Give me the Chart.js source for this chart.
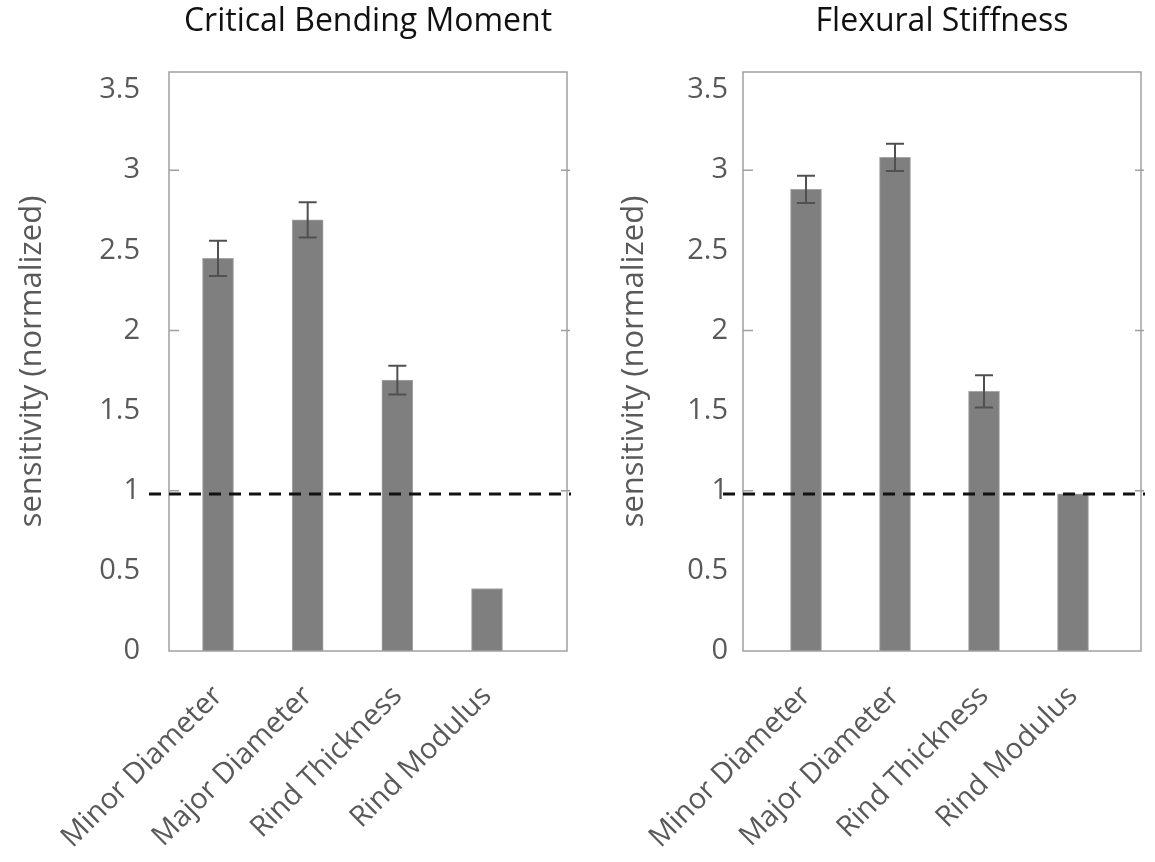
<!DOCTYPE html>
<html>
<head>
<meta charset="utf-8">
<script src="https://cdn.jsdelivr.net/npm/chart.js@4"></script>
<style>
  html, body { margin: 0; padding: 0; background: #fff; }
  .wrap { position: absolute; top: 0; width: 577px; height: 862px; }
  #left { left: 0; }
  #right { left: 577px; width: 578px; }
</style>
</head>
<body>
<div class="wrap" id="left"><canvas id="bendChart"></canvas></div>
<div class="wrap" id="right"><canvas id="stiffChart"></canvas></div>
<script>
// Data
const categories = ['Minor Diameter', 'Major Diameter', 'Rind Thickness', 'Rind Modulus'];
const bendValues = [2.45, 2.69, 1.69, 0.39];
const bendErrors = [0.11, 0.11, 0.09, 0];
const stiffValues = [2.88, 3.08, 1.62, 0.98];
const stiffErrors = [0.085, 0.085, 0.10, 0];
const referenceLine = 0.98;
const yTicks = [0, 0.5, 1, 1.5, 2, 2.5, 3, 3.5];
const frameTicks = [1, 2, 3];

const labelFont = "'Open Sans', sans-serif";

// Frame, border ticks, dashed reference line, error bars
const decorPlugin = {
    id: 'decor',
    afterDatasetsDraw(chart, args, opts) {
        const ctx = chart.ctx;
        const area = chart.chartArea;
        const x = chart.scales.x;
        const y = chart.scales.y;
        ctx.save();

        // Error bars
        ctx.strokeStyle = '#505050';
        ctx.lineWidth = 2;
        opts.values.forEach((v, i) => {
            const err = opts.errors[i];
            if (!err) return;
            const px = x.getPixelForValue(i + 1);
            const top = y.getPixelForValue(v + err);
            const bot = y.getPixelForValue(v - err);
            ctx.beginPath();
            ctx.moveTo(px, top); ctx.lineTo(px, bot);
            ctx.moveTo(px - 9, top); ctx.lineTo(px + 9, top);
            ctx.moveTo(px - 9, bot); ctx.lineTo(px + 9, bot);
            ctx.stroke();
        });

        // Frame
        ctx.strokeStyle = '#a0a0a0';
        ctx.lineWidth = 1.5;
        ctx.strokeRect(area.left, area.top, area.right - area.left, area.bottom - area.top);

        // Small tick marks on frame
        frameTicks.forEach(t => {
            const py = y.getPixelForValue(t);
            ctx.beginPath();
            ctx.moveTo(area.left, py); ctx.lineTo(area.left + 10, py);
            ctx.moveTo(area.right - 6, py); ctx.lineTo(area.right + 3, py);
            ctx.stroke();
        });

        // Dashed reference line
        const ry = y.getPixelForValue(opts.ref);
        ctx.strokeStyle = '#111';
        ctx.lineWidth = 3;
        ctx.setLineDash([12, 8]);
        ctx.beginPath();
        ctx.moveTo(area.left - 20, ry);
        ctx.lineTo(area.right + 4, ry);
        ctx.stroke();
        ctx.restore();
    }
};

function makeChart(canvasId, title, values, errors, xMin, xMax, yAxisWidth, tickPad, titlePad, rightPad) {
    const ctx = document.getElementById(canvasId);
    return new Chart(ctx, {
        type: 'bar',
        data: {
            datasets: [{
                data: values.map((v, i) => ({ x: i + 1, y: v })),
                backgroundColor: '#7f7f7f',
                borderColor: '#a6a6a6',
                borderWidth: 1,
                barThickness: 31
            }]
        },
        options: {
            responsive: true,
            maintainAspectRatio: false,
            animation: false,
            layout: { padding: { left: 0, right: rightPad, top: 0, bottom: 0 } },
            plugins: {
                legend: { display: false },
                tooltip: { enabled: false },
                title: {
                    display: true,
                    fullSize: false,
                    text: title,
                    color: '#111',
                    font: { family: labelFont, size: 32, weight: 'normal' },
                    padding: { top: 3, bottom: 30.6 }
                },
                decor: { values: values, errors: errors, ref: referenceLine }
            },
            scales: {
                x: {
                    type: 'linear',
                    offset: false,
                    min: xMin,
                    max: xMax,
                    grid: { display: false, offset: false },
                    border: { display: false },
                    afterBuildTicks: axis => {
                        axis.ticks = categories.map((c, i) => ({ value: i + 1 }));
                    },
                    afterFit: axis => { axis.height = 211; },
                    ticks: {
                        autoSkip: false,
                        minRotation: 45,
                        maxRotation: 45,
                        padding: 20,
                        color: '#595959',
                        font: { family: labelFont, size: 29 },
                        callback: v => categories[Math.round(v) - 1]
                    }
                },
                y: {
                    min: 0,
                    max: 3.6125,
                    grid: { display: false, drawTicks: false },
                    border: { display: false },
                    afterBuildTicks: axis => {
                        axis.ticks = yTicks.map(v => ({ value: v }));
                    },
                    afterFit: axis => { axis.width = yAxisWidth; },
                    ticks: {
                        padding: tickPad,
                        color: '#595959',
                        font: { family: labelFont, size: 29 },
                        callback: v => String(v)
                    },
                    title: {
                        display: true,
                        text: 'sensitivity (normalized)',
                        color: '#595959',
                        font: { family: labelFont, size: 31 },
                        padding: { top: titlePad, bottom: 0 }
                    }
                }
            }
        },
        plugins: [decorPlugin]
    });
}

makeChart('bendChart', 'Critical Bending Moment', bendValues, bendErrors, 0.4535, 4.892, 169, 29, 14, 10);
makeChart('stiffChart', 'Flexural Stiffness', stiffValues, stiffErrors, 0.292, 4.764, 166, 15, 39, 14);
</script>
</body>
</html>
